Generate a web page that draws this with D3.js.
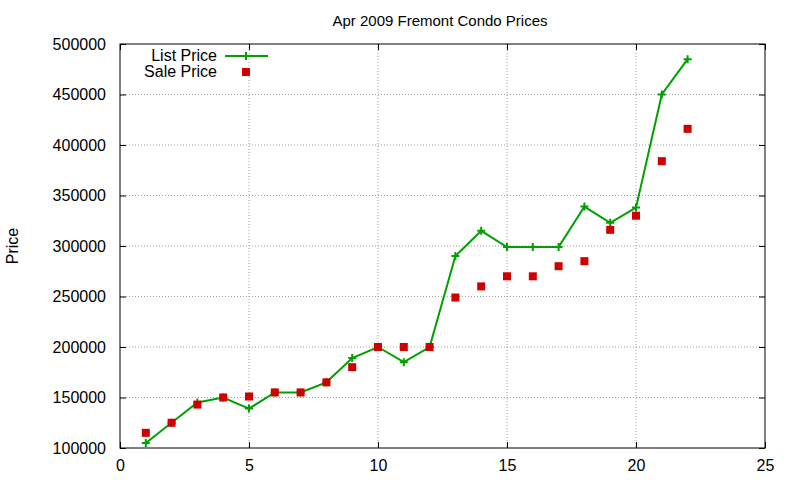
<!DOCTYPE html>
<html>
<head>
<meta charset="UTF-8">
<script src="https://d3js.org/d3.v7.min.js"></script>
<style>
  body { margin: 0; background: #fff; font-family: "Liberation Sans", Arial, sans-serif; }
  .grid line { stroke: #a0a0a0; stroke-dasharray: 1,2; }
  text { fill: #000; }
</style>
</head>
<body>
<svg id="chart" width="800" height="480"></svg>
<script>
var months = [1,2,3,4,5,6,7,8,9,10,11,12,13,14,15,16,17,18,19,20,21,22];
var listPrice = [105000,125000,145000,150000,139000,155000,155000,165000,189000,200000,185000,200000,290000,315000,299000,299000,299000,339000,323000,338000,450000,485000];
var salePrice = [115000,125000,143000,150000,151000,155000,155000,165000,180000,200000,200000,200000,249000,260000,270000,270000,280000,285000,316000,330000,384000,416000];
var xTicks = [0,5,10,15,20,25];
var yTicks = [100000,150000,200000,250000,300000,350000,400000,450000,500000];

var svg = d3.select('#chart');
var pLeft = 120, pRight = 765, pTop = 44, pBottom = 448;
var x = d3.scaleLinear().domain([0,25]).range([pLeft,pRight]);
var y = d3.scaleLinear().domain([100000,500000]).range([pBottom,pTop]);

// grid
var grid = svg.append('g').attr('class','grid');
grid.selectAll('.vx').data(xTicks.slice(1,-1)).join('line')
  .attr('x1',d=>x(d)).attr('x2',d=>x(d)).attr('y1',pTop).attr('y2',pBottom);
grid.selectAll('.hy').data(yTicks.slice(1,-1)).join('line')
  .attr('x1',pLeft).attr('x2',pRight).attr('y1',d=>y(d)).attr('y2',d=>y(d));

// axes with inward ticks
svg.append('g').attr('transform','translate(0,'+pBottom+')')
  .call(d3.axisBottom(x).tickValues(xTicks).tickSizeInner(-6).tickSizeOuter(0).tickPadding(12));
svg.append('g').attr('transform','translate(0,'+pTop+')')
  .call(d3.axisTop(x).tickValues(xTicks).tickSizeInner(-6).tickSizeOuter(0).tickFormat(''));
svg.append('g').attr('transform','translate('+pLeft+',0)')
  .call(d3.axisLeft(y).tickValues(yTicks).tickSizeInner(-6).tickSizeOuter(0).tickPadding(14).tickFormat(d3.format('d')));
svg.append('g').attr('transform','translate('+pRight+',0)')
  .call(d3.axisRight(y).tickValues(yTicks).tickSizeInner(-6).tickSizeOuter(0).tickFormat(''));
svg.selectAll('.domain').remove();
svg.selectAll('.tick text').style('font-size','16px').style('font-family','"Liberation Sans", Arial, sans-serif');
svg.selectAll('.tick line').attr('stroke','#000');
svg.append('rect').attr('x',pLeft).attr('y',pTop).attr('width',pRight-pLeft).attr('height',pBottom-pTop)
  .attr('fill','none').attr('stroke','#000');

// titles
svg.append('text').attr('x',440).attr('y',26).attr('text-anchor','middle').style('font-size','15px').text('Apr 2009 Fremont Condo Prices');
svg.append('text').attr('transform','translate(18,246) rotate(-90)').attr('text-anchor','middle').style('font-size','16px').text('Price');

// list price line
var green = '#00a000', red = '#d00000';
svg.append('path').datum(months)
  .attr('d', d3.line().x(d=>x(d)).y((d,i)=>y(listPrice[i])))
  .attr('fill','none').attr('stroke',green).attr('stroke-width',2);
function plus(g, cx, cy) {
  g.append('path').attr('d','M'+(cx-4)+','+cy+'h8M'+cx+','+(cy-4)+'v8').attr('stroke',green).attr('stroke-width',2);
}
var pg = svg.append('g');
months.forEach(function(m,i){ plus(pg, x(m), y(listPrice[i])); });

// sale price squares
svg.append('g').selectAll('rect').data(months).join('rect')
  .attr('x',d=>x(d)-4).attr('y',(d,i)=>y(salePrice[i])-4).attr('width',8).attr('height',8).attr('fill',red);

// legend
svg.append('text').attr('x',217).attr('y',61).attr('text-anchor','end').style('font-size','16px').text('List Price');
svg.append('line').attr('x1',225).attr('x2',268).attr('y1',56).attr('y2',56).attr('stroke',green).attr('stroke-width',2);
plus(svg, 246, 56);
svg.append('text').attr('x',217).attr('y',77).attr('text-anchor','end').style('font-size','16px').text('Sale Price');
svg.append('rect').attr('x',242).attr('y',68).attr('width',8).attr('height',8).attr('fill',red);
</script>
</body>
</html>
